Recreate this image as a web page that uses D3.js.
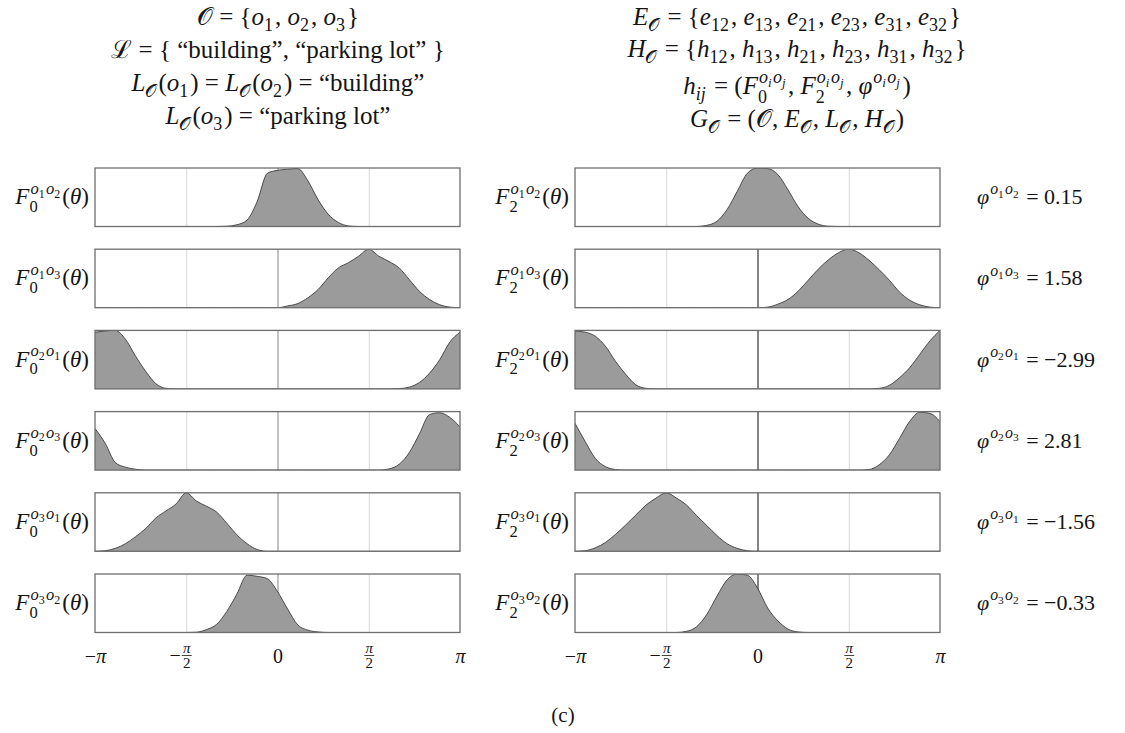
<!DOCTYPE html>
<html>
<head>
<meta charset="utf-8">
<script src="https://cdn.jsdelivr.net/npm/d3@7"></script>
<style>
  body { margin: 0; background: #fff; }
  svg { display: block; }
  svg text { font-family: "Liberation Serif", "DejaVu Serif", serif; }
</style>
</head>
<body>
<div id="chart"></div>
<script>
// angle samples (degrees), shared by every density
const theta = [-180,-170,-160,-150,-140,-130,-120,-110,-100,-90,-80,-70,-60,-50,-40,-30,-20,-10,
  0,10,20,30,40,50,60,70,80,90,100,110,120,130,140,150,160,170,180];

// F0 densities (scaled to panel height)
const f0_o1o2 = [0,0,0,0,0,0,0,0,0,0,0,0,0,0.005,0.03,0.11,0.43,0.91,0.96,0.98,0.99,0.78,0.46,0.21,0.07,0.01,0,0,0,0,0,0,0,0,0,0,0];
const f0_o1o3 = [0,0,0,0,0,0,0,0,0,0,0,0,0,0,0,0,0,0,0,0.03,0.07,0.17,0.31,0.51,0.68,0.77,0.88,1.0,0.88,0.79,0.68,0.48,0.28,0.14,0.05,0.01,0];
const f0_o2o1 = [0.97,0.99,1.0,0.85,0.56,0.3,0.09,0.01,0,0,0,0,0,0,0,0,0,0,0,0,0,0,0,0,0,0,0,0,0,0,0.005,0.03,0.11,0.27,0.5,0.8,0.97];
const f0_o2o3 = [0.71,0.46,0.13,0.05,0.015,0,0,0,0,0,0,0,0,0,0,0,0,0,0,0,0,0,0,0,0,0,0,0,0,0.02,0.1,0.3,0.62,0.95,0.98,0.9,0.74];
const f0_o3o1 = [0,0.01,0.05,0.13,0.25,0.39,0.57,0.69,0.81,1.0,0.86,0.77,0.67,0.48,0.28,0.13,0.03,0,0,0,0,0,0,0,0,0,0,0,0,0,0,0,0,0,0,0,0];
const f0_o3o2 = [0,0,0,0,0,0,0,0,0,0,0.005,0.05,0.14,0.36,0.66,0.98,0.96,0.92,0.7,0.4,0.13,0.04,0.01,0,0,0,0,0,0,0,0,0,0,0,0,0,0];

// F2 densities
const f2_o1o2 = [0,0,0,0,0,0,0,0,0,0,0,0,0,0.02,0.09,0.29,0.6,0.91,1.0,0.99,0.89,0.63,0.34,0.14,0.04,0.005,0,0,0,0,0,0,0,0,0,0,0];
const f2_o1o3 = [0,0,0,0,0,0,0,0,0,0,0,0,0,0,0,0,0,0,0,0.01,0.06,0.14,0.28,0.47,0.66,0.82,0.94,1.0,0.94,0.81,0.65,0.47,0.27,0.13,0.05,0.01,0];
const f2_o2o1 = [0.99,0.97,0.9,0.73,0.47,0.25,0.07,0.01,0,0,0,0,0,0,0,0,0,0,0,0,0,0,0,0,0,0,0,0,0,0,0.01,0.06,0.19,0.36,0.59,0.82,1.0];
const f2_o2o3 = [0.8,0.49,0.2,0.06,0.01,0,0,0,0,0,0,0,0,0,0,0,0,0,0,0,0,0,0,0,0,0,0,0,0,0.01,0.09,0.26,0.54,0.83,0.99,0.97,0.83];
const f2_o3o1 = [0,0.01,0.06,0.15,0.29,0.45,0.62,0.79,0.91,1.0,0.91,0.79,0.61,0.44,0.27,0.13,0.05,0.01,0,0,0,0,0,0,0,0,0,0,0,0,0,0,0,0,0,0,0];
const f2_o3o2 = [0,0,0,0,0,0,0,0,0,0,0,0.02,0.1,0.31,0.62,0.9,1.0,0.98,0.76,0.42,0.2,0.06,0.01,0,0,0,0,0,0,0,0,0,0,0,0,0,0];

const pairs = ["12", "13", "21", "23", "31", "32"];
const phiValues = [0.15, 1.58, -2.99, 2.81, -1.56, -0.33];
const tickLabels = ["−π", "−π/2", "0", "π/2", "π"];

const leftTitle = [
  "𝒪 = \\{o_1, o_2, o_3\\}",
  "ℒ = \\{ \\t{“building”}, \\t{“parking lot”} \\}",
  "L_𝒪(o_1) = L_𝒪(o_2) = \\t{“building”}",
  "L_𝒪(o_3) = \\t{“parking lot”}"
];
const rightTitle = [
  "E_𝒪 = \\{e_{12}, e_{13}, e_{21}, e_{23}, e_{31}, e_{32}\\}",
  "H_𝒪 = \\{h_{12}, h_{13}, h_{21}, h_{23}, h_{31}, h_{32}\\}",
  "h_{ij} = (F_0^{o_io_j}, F_2^{o_io_j}, φ^{o_io_j})",
  "G_𝒪 = (𝒪, E_𝒪, L_𝒪, H_𝒪)"
];

const f0 = [f0_o1o2, f0_o1o3, f0_o2o1, f0_o2o3, f0_o3o1, f0_o3o2];
const f2 = [f2_o1o2, f2_o1o3, f2_o2o1, f2_o2o3, f2_o3o1, f2_o3o2];

const width = 1125, height = 733;
const svg = d3.select("#chart").append("svg").attr("width", width).attr("height", height);

// ---- tiny math text helper ----
const measurer = svg.append("text").attr("visibility", "hidden");
function textWidth(s, size, italic) {
  measurer.attr("font-size", size).attr("font-style", italic ? "italic" : "normal").text(s);
  return measurer.node().getComputedTextLength();
}

function parse(str) {
  const ch = Array.from(str);
  let pos = 0;
  function group() {
    const toks = [];
    const push = (c, it) => {
      const last = toks[toks.length - 1];
      if (last && last.i === it && !last.sub && !last.sup && !last.grp) last.t += c;
      else toks.push({ t: c, i: it });
    };
    while (pos < ch.length) {
      const c = ch[pos];
      if (c === "}") { pos++; return toks; }
      if (c === "{") { pos++; toks.push({ t: "", i: false, grp: group() }); continue; }
      if (c === "\\") {
        const n = ch[pos + 1];
        if (n === "t") {
          pos += 3; let s = "";
          while (ch[pos] !== "}") s += ch[pos++];
          pos++; push(s, false); continue;
        }
        push(n, false); pos += 2; continue;
      }
      if (c === "_" || c === "^") {
        pos++;
        let g;
        if (ch[pos] === "{") { pos++; g = group(); } else { g = parse(ch[pos]); pos++; }
        const last = toks[toks.length - 1];
        if (c === "_") last.sub = g; else last.sup = g;
        continue;
      }
      push(c, /[a-zA-Zθφ]/.test(c));
      pos++;
    }
    return toks;
  }
  return group();
}

function renderMath(g, toks, size, x, y) {
  let cx = x;
  toks.forEach(tok => {
    if (tok.grp) cx += renderMath(g, tok.grp, size, cx, y);
    if (tok.t) {
      const s = tok.t.replace(/ /g, "\u00A0");
      g.append("text").attr("x", cx).attr("y", y).attr("font-size", size)
        .attr("font-style", tok.i ? "italic" : "normal").attr("fill", "#151515").text(s);
      cx += textWidth(s, size, tok.i);
    }
    if (tok.sub || tok.sup) {
      let w1 = 0, w2 = 0;
      const both = tok.sub && tok.sup;
      if (tok.sub) w1 = renderMath(g, tok.sub, size * 0.72, cx, y + size * (both ? 0.34 : 0.22));
      if (tok.sup) w2 = renderMath(g, tok.sup, size * 0.72, cx + 1, y - size * 0.45);
      cx += Math.max(w1, w2) + size * 0.08;
    }
  });
  return cx - x;
}

function mathLabel(str, size, x, y, anchor) {
  const g = svg.append("g");
  const w = renderMath(g, parse(str), size, 0, 0);
  const dx = anchor === "middle" ? x - w / 2 : anchor === "end" ? x - w : x;
  g.attr("transform", `translate(${dx},${y})`);
  return g;
}

// ---- titles ----
const leftBase = [25, 58, 91, 124];
const rightBase = [25, 57, 94, 127];
leftTitle.forEach((s, i) => mathLabel(s, 25, 278, leftBase[i], "middle"));
rightTitle.forEach((s, i) => mathLabel(s, 25, 797, rightBase[i], "middle"));

// ---- panels ----
const panelH = 58.5;
const rowTop = i => 168 + i * 81.2;
const columns = [
  { x0: 95, x1: 460, dens: f0, sub: "0", zero: "#9a9a9a" },
  { x0: 575, x1: 940, dens: f2, sub: "2", zero: "#333" }
];
const rad = d => d * Math.PI / 180;
const ticks = [-Math.PI, -Math.PI / 2, 0, Math.PI / 2, Math.PI];

columns.forEach(col => {
  const x = d3.scaleLinear().domain([-Math.PI, Math.PI]).range([0, col.x1 - col.x0]);
  const y = d3.scaleLinear().domain([0, 1]).range([panelH, 0]);
  const area = d3.area().x(d => x(d.t)).y0(panelH).y1(d => y(d.v)).curve(d3.curveMonotoneX);
  const line = d3.line().x(d => x(d.t)).y(d => y(d.v)).curve(d3.curveMonotoneX);

  col.dens.forEach((vals, r) => {
    const data = theta.map((t, k) => ({ t: rad(t), v: vals[k] }));
    const g = svg.append("g").attr("transform", `translate(${col.x0},${rowTop(r)})`);

    const grid = g.append("g").attr("transform", `translate(0,${panelH})`)
      .call(d3.axisBottom(x).tickValues([-Math.PI / 2, 0, Math.PI / 2]).tickSize(-panelH).tickFormat(""));
    grid.select(".domain").remove();
    grid.selectAll("line").attr("stroke", d => d === 0 ? col.zero : "#d8d8d8").attr("stroke-width", d => d === 0 ? 1.2 : 1);

    const clipId = `clip${col.sub}_${r}`;
    g.append("clipPath").attr("id", clipId).append("rect").attr("width", x.range()[1]).attr("height", panelH);
    g.append("path").datum(data).attr("d", area).attr("fill", "#9b9b9b").attr("clip-path", `url(#${clipId})`);
    g.append("path").datum(data).attr("d", line).attr("fill", "none").attr("stroke", "#3c3c3c")
      .attr("stroke-width", 0.9).attr("clip-path", `url(#${clipId})`);

    g.append("rect").attr("width", x.range()[1]).attr("height", panelH)
      .attr("fill", "none").attr("stroke", "#6e6e6e").attr("stroke-width", 1.3);

    const p = pairs[r];
    mathLabel(`F_${col.sub}^{o_${p[0]}o_${p[1]}}(θ)`, 23, col.x0 - 6, rowTop(r) + panelH / 2 + 7, "end");

    if (r === col.dens.length - 1) {
      const ax = g.append("g").attr("transform", `translate(0,${panelH})`)
        .call(d3.axisBottom(x).tickValues(ticks).tickSize(0).tickFormat(""));
      ax.select(".domain").remove();
      ax.selectAll(".tick").each(function (d, k) {
        const t = d3.select(this);
        const lab = tickLabels[k];
        if (lab.includes("/")) {
          const neg = lab.startsWith("−");
          const parts = lab.replace("−", "").split("/");
          t.append("text").attr("y", 20).attr("font-size", 15).attr("font-style", "italic")
            .attr("text-anchor", "middle").attr("fill", "#151515").text(parts[0]);
          t.append("line").attr("x1", -5).attr("x2", 5).attr("y1", 23).attr("y2", 23)
            .attr("stroke", "#151515").attr("stroke-width", 0.8);
          t.append("text").attr("y", 35).attr("font-size", 15).attr("text-anchor", "middle")
            .attr("fill", "#151515").text(parts[1]);
          if (neg) t.append("text").attr("x", -6).attr("y", 29).attr("font-size", 20)
            .attr("text-anchor", "end").attr("fill", "#151515").text("−");
        } else {
          const txt = t.append("text").attr("y", 30).attr("font-size", 20).attr("text-anchor", "middle").attr("fill", "#151515");
          if (lab.startsWith("−")) { txt.append("tspan").text("−"); txt.append("tspan").attr("font-style", "italic").text("π"); }
          else txt.attr("font-style", lab === "0" ? "normal" : "italic").text(lab);
        }
      });
    }
  });
});

// phi labels
phiValues.forEach((v, r) => {
  const p = pairs[r];
  const num = (v < 0 ? "−" : "") + Math.abs(v).toFixed(2);
  mathLabel(`φ^{o_${p[0]}o_${p[1]}} = ${num}`, 22, 977, rowTop(r) + panelH / 2 + 7, "start");
});

// caption
svg.append("text").attr("x", 563).attr("y", 722).attr("text-anchor", "middle")
  .attr("font-size", 21).attr("fill", "#151515").text("(c)");
</script>
</body>
</html>
